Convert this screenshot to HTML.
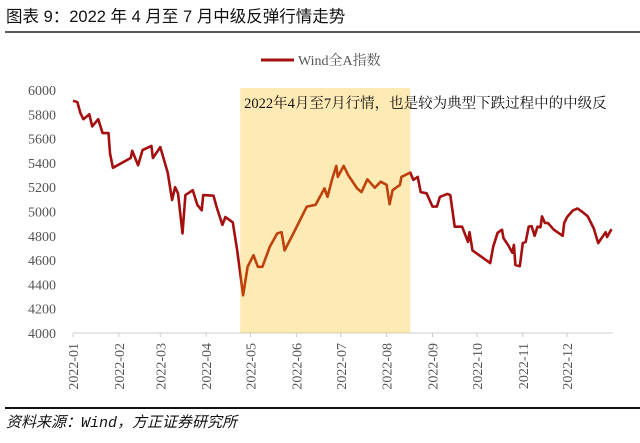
<!DOCTYPE html>
<html><head><meta charset="utf-8"><style>
body{margin:0;background:#fff;width:640px;height:443px;overflow:hidden}
svg{display:block}
</style></head><body>
<svg id="chart" width="640" height="443" font-family="'Liberation Serif','Noto Serif CJK SC',serif">
<text x="6" y="22" font-family="'Liberation Sans','Noto Sans CJK SC',sans-serif" font-size="16.5" fill="#111">图表 9：2022 年 4 月至 7 月中级反弹行情走势</text>
<line x1="5" y1="32" x2="640" y2="32" stroke="#222" stroke-width="1.5"/>
<g>
<line x1="261" y1="60" x2="294" y2="60" stroke="#A50F0F" stroke-width="3"/>
<text x="298" y="65" font-size="14" fill="#555">Wind全A指数</text>
</g>
<g id="yaxis"></g>
<g id="xaxis"></g>
<g id="plot"></g>
<line x1="5" y1="408" x2="640" y2="408" stroke="#111" stroke-width="2"/>
<text x="6" y="427" font-size="15" font-style="italic" fill="#111" font-family="'Liberation Mono','Noto Sans CJK SC',monospace">资料来源：Wind，方正证券研究所</text>
</svg>
<script>
const days=[0,3,5,7,11,13,17,20,24,25,27,39,40,44,47,53,54,59,64,67,69,71,74,76,81,84,87,88,95,97,101,103,108,111,115,118,122,125,128,133,138,141,143,149,158,164,170,172,175,178,179,183,186,192,195,199,204,208,212,214,216,221,222,228,230,233,235,239,243,246,248,253,255,258,263,267,268,270,282,284,287,290,291,294,297,298,299,302,304,306,308,310,312,314,316,317,319,321,325,331,332,334,338,341,345,348,352,355,360,361,364];
const values=[5912,5900,5810,5760,5800,5700,5760,5645,5645,5480,5360,5440,5500,5380,5505,5540,5440,5530,5320,5095,5200,5150,4820,5135,5175,5055,5010,5135,5130,5040,4890,4955,4910,4680,4310,4545,4640,4545,4545,4710,4820,4830,4680,4820,5040,5055,5190,5120,5260,5375,5285,5375,5300,5190,5160,5265,5195,5245,5220,5060,5175,5220,5285,5320,5260,5285,5160,5150,5040,5040,5120,5145,5135,4875,4875,4750,4830,4680,4575,4710,4825,4850,4780,4725,4660,4725,4560,4550,4740,4750,4875,4880,4800,4875,4870,4960,4905,4905,4850,4800,4905,4955,5010,5025,4990,4960,4860,4740,4830,4790,4855];
const yTicks=[4000,4200,4400,4600,4800,5000,5200,5400,5600,5800,6000];
const monthLabels=["2022-01","2022-02","2022-03","2022-04","2022-05","2022-06","2022-07","2022-08","2022-09","2022-10","2022-11","2022-12"];
const monthStarts=[0,31,59,90,120,151,181,212,243,273,304,334];
const bandRange=[113,228];
const note="2022年4月至7月行情，也是较为典型下跌过程中的中级反";
const NS="http://www.w3.org/2000/svg";
const X0=73,X1=613,Y0=333,Y1=90;
const xs=d=>X0+d*(X1-X0)/365;
const ys=v=>Y0-(v-4000)*(Y0-Y1)/2000;
function mk(t,a,p){const e=document.createElementNS(NS,t);for(const k in a)e.setAttribute(k,a[k]);p.appendChild(e);return e;}
const ya=document.getElementById('yaxis'),xa=document.getElementById('xaxis'),pl=document.getElementById('plot');
yTicks.forEach(v=>{const t=mk('text',{x:56,y:ys(v)+5,'text-anchor':'end','font-size':14,fill:'#555'},ya);t.textContent=v;

});
const ax=mk('line',{x1:X0,y1:Y0,x2:X1,y2:Y0,stroke:'#ccc','stroke-width':1},xa);


monthStarts.forEach((d,i)=>{const x=xs(d);
const tk=mk('line',{x1:x,y1:Y0,x2:x,y2:Y0+4,stroke:'#ccc'},xa);


const t=mk('text',{transform:`translate(${x+5},${Y0+10}) rotate(-90)`,'text-anchor':'end','font-size':14,fill:'#555'},xa);t.textContent=monthLabels[i];

});
const pts=days.map((d,i)=>xs(d).toFixed(1)+','+ys(values[i]).toFixed(1)).join(' ');
const ln=mk('polyline',{points:pts,fill:'none',stroke:'#A50F0F','stroke-width':2.6,'stroke-linejoin':'round'},pl);


const b=mk('rect',{x:xs(bandRange[0]),y:Y1-2,width:xs(bandRange[1])-xs(bandRange[0]),height:Y0-Y1+2,fill:'rgb(252,185,5)','fill-opacity':0.3},pl);


const nt=mk('text',{x:xs(bandRange[0])+4,y:108,'font-size':14.5,fill:'#111'},pl);nt.textContent=note;


</script>
</body></html>
